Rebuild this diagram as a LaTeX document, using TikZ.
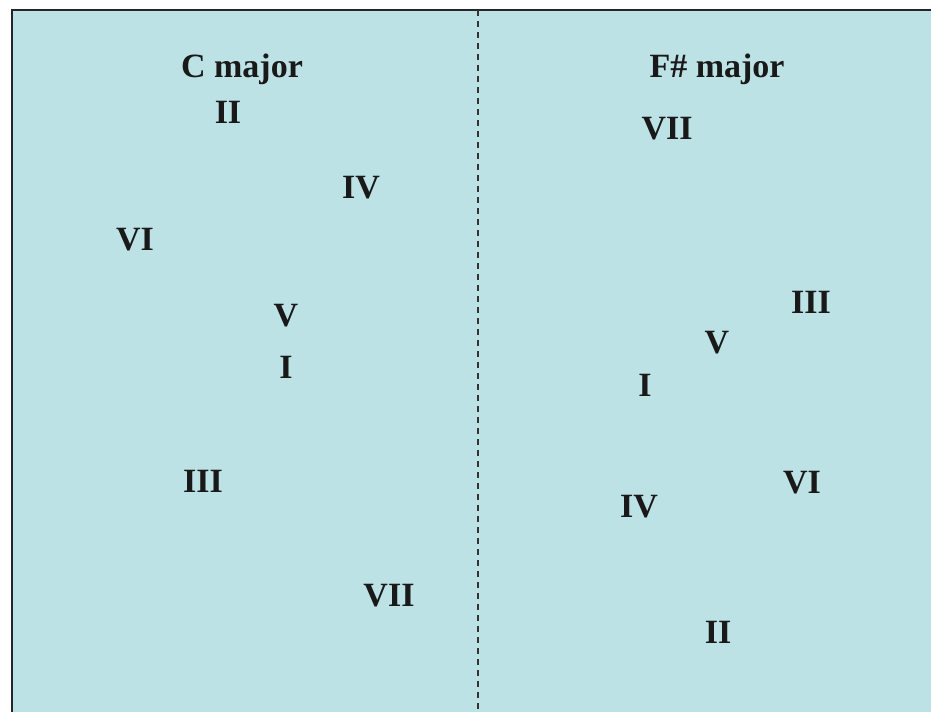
\documentclass[tikz,border=0pt]{standalone}
\usepackage{fontspec}
\setmainfont{Liberation Serif}
\definecolor{panelbg}{HTML}{BDE2E5}
\begin{document}
\begin{tikzpicture}[x=1pt,y=-1pt,
  lbl/.style={inner sep=0pt,font=\fontsize{34}{40}\selectfont\bfseries,text=black!90}]
\useasboundingbox (0,0) rectangle (931,712);
\fill[white] (0,0) rectangle (931,712);
\fill[panelbg] (12,10) rectangle (931,712);
\draw[line width=2pt,black!85] (12,712) -- (12,10) -- (931,10);
\coordinate (dtop) at (478,10);
\coordinate (dbot) at (478,712);
\draw[line width=1.2pt,dash pattern=on 6pt off 5pt,black!80] (dtop) -- (dbot);
% left
\node[lbl] (cmaj) at (242,69) {C major};
\node[lbl] (l2) at (228,112) {II};
\node[lbl] (l4) at (361,188) {IV};
\node[lbl] (l6) at (135,240) {VI};
\node[lbl] (l5) at (286,316) {V};
\node[lbl] (l1) at (286,367) {I};
\node[lbl] (l3) at (203,481) {III};
\node[lbl] (l7) at (389,596) {VII};
% right
\node[lbl] (fmaj) at (717,69) {F\# major};
\node[lbl] (r7) at (667,129) {VII};
\node[lbl] (r3) at (811,302) {III};
\node[lbl] (r5) at (717,343) {V};
\node[lbl] (r1) at (645,385) {I};
\node[lbl] (r6) at (802,483) {VI};
\node[lbl] (r4) at (639,507) {IV};
\node[lbl] (r2) at (718,632) {II};
\end{tikzpicture}
\end{document}
